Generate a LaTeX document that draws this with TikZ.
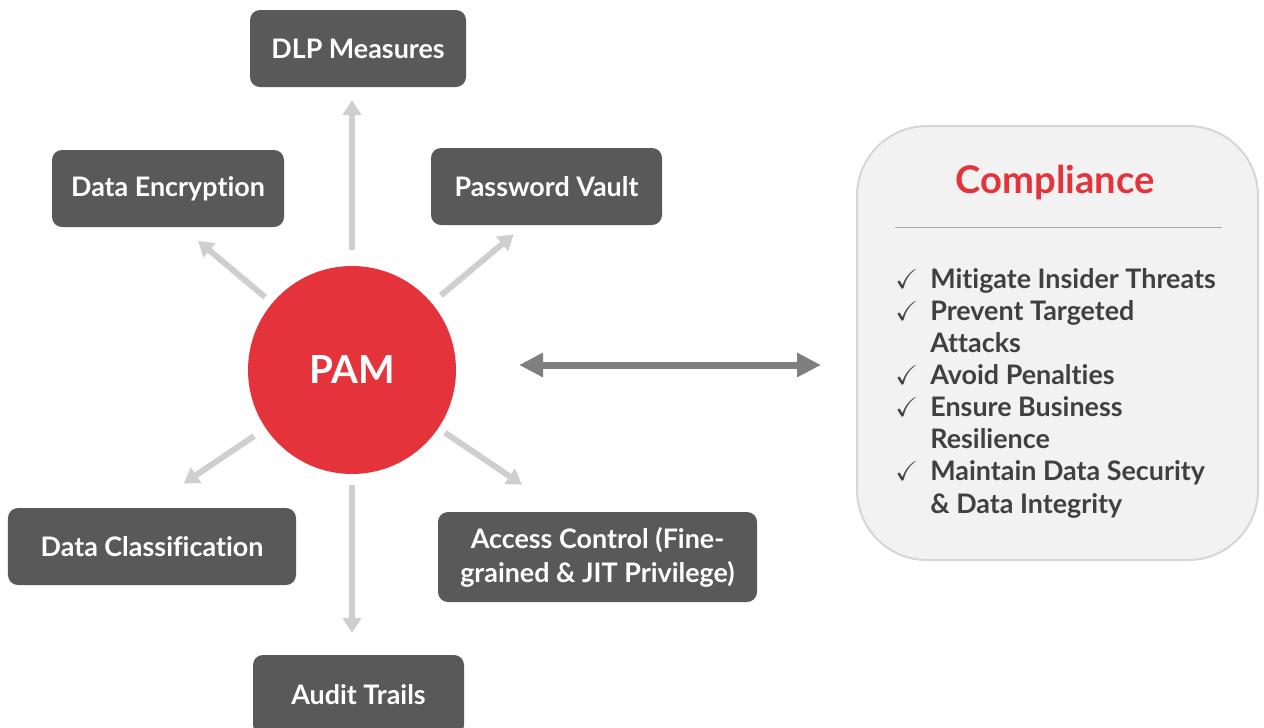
\documentclass[tikz,border=0pt]{standalone}
\usepackage{amssymb}
\usepackage{fontspec}
\setmainfont{Lato}[Ligatures=NoCommon]
\usepackage{tikz}
\usetikzlibrary{arrows.meta,calc}

\definecolor{boxgray}{HTML}{595959}
\definecolor{pamred}{HTML}{E5333B}
\definecolor{spokegray}{HTML}{D0CECE}
\definecolor{linkgray}{HTML}{7F7F7F}
\definecolor{panelfill}{HTML}{F2F2F2}
\definecolor{paneledge}{HTML}{D6D6D6}
\definecolor{textgray}{HTML}{404040}

\begin{document}
\begin{tikzpicture}[font=\bfseries]

\tikzstyle{block} = [fill=boxgray, rounded corners=0.2cm, text=white, font=\fontsize{15.3}{19.5}\selectfont\bfseries, minimum height=1.54cm, align=center, inner sep=0pt]
\tikzstyle{spoke} = [line width=0.12cm, spokegray, -{Triangle[width=0.36cm,length=0.3cm]}]

\useasboundingbox (0,0) rectangle (25.28,-14.54);

% Centre circle
\node[circle, fill=pamred, minimum size=4.16cm, text=white, font=\fontsize{22}{26}\selectfont\bfseries] (pam) at (7.04,-7.4) {PAM};

% Surrounding blocks
\node[block, minimum width=4.32cm] (dlp) at (7.16,-0.97) {DLP Measures};
\node[block, minimum width=4.64cm] (enc) at (3.36,-3.77) {Data Encryption};
\node[block, minimum width=4.62cm] (vault) at (10.93,-3.73) {Password Vault};
\node[block, minimum width=5.76cm] (class) at (3.04,-10.93) {Data Classification};
\node[block, minimum width=6.38cm, minimum height=1.8cm] (access) at (11.95,-11.14) {Access Control (Fine-\\grained \& JIT Privilege)};
\node[block, minimum width=4.22cm, minimum height=1.6cm] (audit) at (7.17,-13.9) {Audit Trails};

% Spokes out of the circle
\draw[spoke] ($(pam)+(90:2.4)$) -- ($(pam)+(90:5.4)$);
\draw[spoke] ($(pam)+(140:2.27)$) -- ($(pam)+(140:4.02)$);
\draw[spoke] ($(pam)+(40:2.32)$) -- ($(pam)+(40:4.22)$);
\draw[spoke] ($(pam)+(-146:2.36)$) -- ($(pam)+(-146:4.06)$);
\draw[spoke] ($(pam)+(-34:2.24)$) -- ($(pam)+(-34:4.1)$);
\draw[spoke] ($(pam)+(-90:2.3)$) -- ($(pam)+(-90:5.26)$);

% Compliance panel
\node[draw=paneledge, line width=0.04cm, fill=panelfill, rounded corners=1.4cm, minimum width=8.02cm, minimum height=8.68cm] (comp) at (21.15,-6.86) {};
\node[text=pamred, font=\fontsize{21.7}{24}\selectfont\bfseries] (title) at (21.1,-3.66) {Compliance};
\draw[line width=0.02cm, color=gray!70] (17.9,-4.54) -- (24.44,-4.54);

\node[anchor=base west, inner sep=0pt, text=textgray, font=\fontsize{15.3}{18.3}\selectfont\bfseries] (list) at (17.9,-5.76) {%
\begin{tabular}[t]{@{}p{0.7cm}@{}l@{}}
$\checkmark$ & Mitigate Insider Threats\\
$\checkmark$ & Prevent Targeted\\
 & Attacks\\
$\checkmark$ & Avoid Penalties\\
$\checkmark$ & Ensure Business\\
 & Resilience\\
$\checkmark$ & Maintain Data Security\\
 & \& Data Integrity
\end{tabular}};

% Link between circle and panel
\coordinate (lnkA) at (10.38,-7.3);
\coordinate (lnkB) at (16.42,-7.3);
\draw[line width=0.14cm, linkgray, {Triangle[width=0.46cm,length=0.48cm]}-{Triangle[width=0.46cm,length=0.48cm]}] (lnkA) -- (lnkB);

\end{tikzpicture}
\end{document}
